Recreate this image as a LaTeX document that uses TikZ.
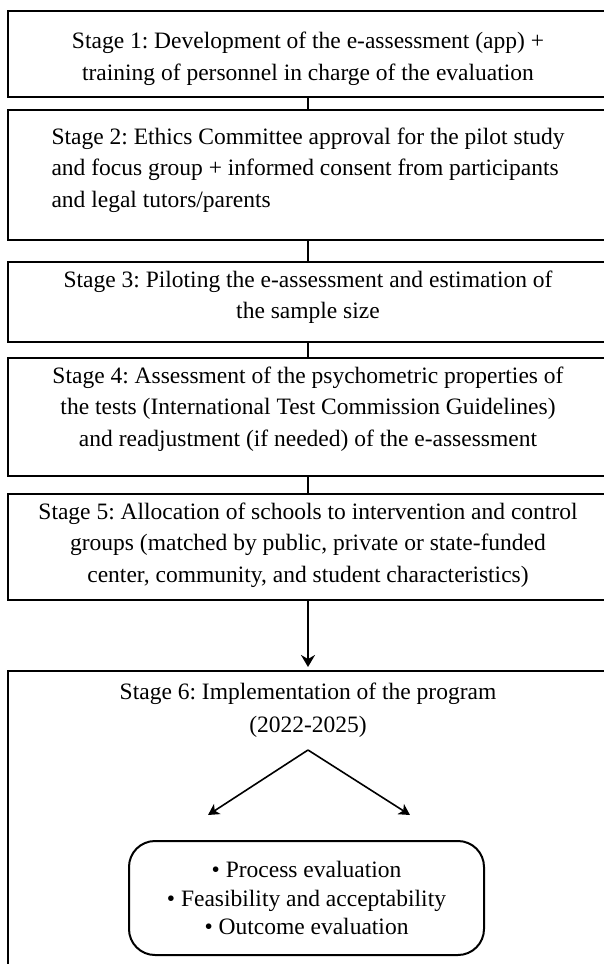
\documentclass[tikz,border=0pt]{standalone}
\usepackage{fontspec}
\setmainfont{Liberation Serif}
\usetikzlibrary{arrows.meta}
\begin{document}
\begin{tikzpicture}[x=1pt,y=-1pt,
  stagebox/.style={draw, line width=2.2pt, minimum width=600pt, inner sep=0pt},
  stagetext/.style={inner sep=0pt, align=center, font=\fontsize{23.5}{31.5}\selectfont\frenchspacing},
  link/.style={line width=2pt},
  split/.style={line width=1.6pt, -{Stealth[length=11pt,width=12pt,inset=3pt]}},
  outbox/.style={draw, line width=2pt, rounded corners=26pt, minimum width=355pt, minimum height=114pt,
    inner sep=0pt, align=center, font=\fontsize{23.5}{28.5}\selectfont\frenchspacing}]
\useasboundingbox (0,0) rectangle (603,964);
\fill[white] (0,0) rectangle (603,964);
% boxes
\node[stagebox, minimum height=86pt] (s1) at (308,54) {};
\node[stagebox, minimum height=130pt] (s2) at (308,175) {};
\node[stagebox, minimum height=80pt] (s3) at (308,302) {};
\node[stagebox, minimum height=118pt] (s4) at (308,417) {};
\node[stagebox, minimum height=106pt] (s5) at (308,547) {};
\node[stagebox, minimum height=330pt, anchor=north] (s6) at (308,670) {};
% texts
\node[stagetext] (t1) at (308,59)
  {Stage 1: Development of the e-assessment (app) +\\training of personnel in charge of the evaluation};
\node[stagetext, align=left] (t2) at (308,170)
  {Stage 2: Ethics Committee approval for the pilot study\\and focus group + informed consent from participants\\and legal tutors/parents};
\node[stagetext] (t3) at (308,297)
  {Stage 3: Piloting the e-assessment and estimation of\\the sample size};
\node[stagetext] (t4) at (308,409)
  {Stage 4: Assessment of the psychometric properties of\\the tests (International Test Commission Guidelines)\\and readjustment (if needed) of the e-assessment};
\node[stagetext] (t5) at (308,545)
  {Stage 5: Allocation of schools to intervention and control\\groups (matched by public, private or state-funded\\center, community, and student characteristics)};
\node[stagetext, font=\fontsize{23.5}{33}\selectfont\frenchspacing] (t6) at (308,710)
  {Stage 6: Implementation of the program\\(2022-2025)};
\coordinate (apex) at (308,750);
\coordinate (tipl) at (208,815);
\coordinate (tipr) at (410,815);
\node[outbox] (out) at (306.5,898)
  {• Process evaluation\\• Feasibility and acceptability\\• Outcome evaluation};
% connectors
\draw[link] (s1.south) -- (s2.north);
\draw[link] (s2.south) -- (s3.north);
\draw[link] (s3.south) -- (s4.north);
\draw[link] (s4.south) -- (s5.north);
\draw[link, -{Stealth[length=12pt,width=14pt,inset=4pt]}, shorten >=3pt] (s5.south) -- (s6.north);
\draw[split] (apex) -- (tipl);
\draw[split] (apex) -- (tipr);
\end{tikzpicture}
\end{document}
